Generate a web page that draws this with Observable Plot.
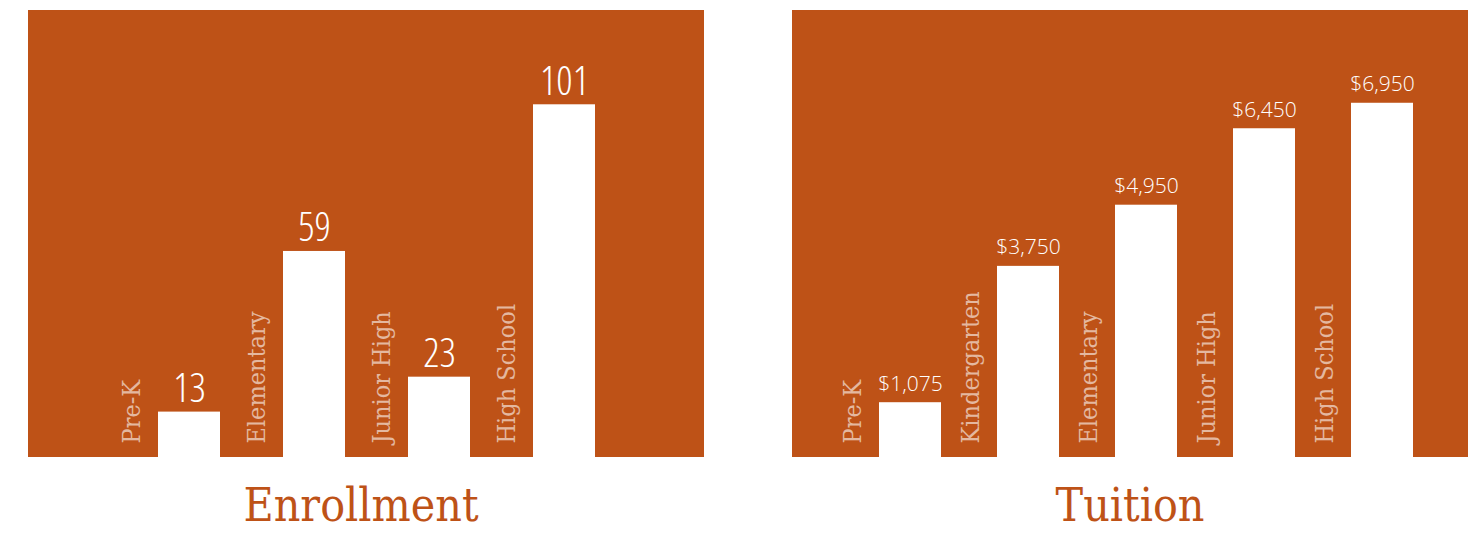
<!DOCTYPE html>
<html>
<head>
<meta charset="utf-8">
<script src="https://cdn.jsdelivr.net/npm/d3@7"></script>
<script src="https://cdn.jsdelivr.net/npm/@observablehq/plot@0.6"></script>
<style>
  html, body { margin: 0; padding: 0; background: #ffffff; }
  #wrap { position: relative; width: 1476px; height: 533px; }
  .panel { position: absolute; top: 10px; width: 676px; height: 447px; }
  .panel svg { display: block; }
  .title {
    position: absolute; top: 485px; width: 676px; text-align: center;
    font-family: "DejaVu Serif Condensed", "DejaVu Serif", serif; font-stretch: condensed;
    font-size: 46px; line-height: 40px; color: #BE5217;
  }
</style>
</head>
<body>
<div id="wrap">
  <div class="panel" id="p1" style="left:28px"></div>
  <div class="panel" id="p2" style="left:792px"></div>
  <div class="title" style="left:23px">Enrollment</div>
  <div class="title" style="left:792px">Tuition</div>
</div>
<script>
const enrollCategories = ["Pre-K", "Elementary", "Junior High", "High School"];
const enrollValues = [13, 59, 23, 101];
const tuitionCategories = ["Pre-K", "Kindergarten", "Elementary", "Junior High", "High School"];
const tuitionValues = [1075, 3750, 4950, 6450, 6950];

const BG = "#BE5217";
const labelFont = "'DejaVu Serif Condensed', 'DejaVu Serif', serif";
const valueFont = "'Open Sans', Lato, Roboto, sans-serif";

function panel({cats, vals, yMax, mLeft, mRight, padInner, fmt, valueSize, valueDy, valueStretch}) {
  const data = cats.map((c, i) => ({cat: c, value: vals[i]}));
  const chart = Plot.plot({
    width: 676,
    height: 447,
    marginLeft: mLeft,
    marginRight: mRight,
    marginTop: 0,
    marginBottom: 0,
    x: {type: "band", domain: cats, paddingInner: padInner, paddingOuter: 0, axis: null},
    y: {domain: [0, yMax], axis: null},
    style: {background: BG, overflow: "visible"},
    marks: [
      Plot.barY(data, {x: "cat", y: "value", fill: "white"}),
      Plot.text(data, {
        x: "cat", y: "value", text: d => fmt(d.value),
        dy: valueDy, lineAnchor: "bottom", fill: "white",
        fontSize: valueSize, fontFamily: valueFont, fontWeight: 300,
        className: "vals"
      }),
      Plot.text(data, {
        x: "cat", y: () => 0, text: "cat", rotate: -90,
        textAnchor: "start", lineAnchor: "middle", dx: -58, dy: -14,
        fill: "white", fillOpacity: 0.6, fontSize: 25, fontFamily: labelFont,
        className: "cats"
      })
    ]
  });
  chart.querySelectorAll(".cats text").forEach(t => t.style.fontStretch = "condensed");
  chart.querySelectorAll(".vals text").forEach(t => t.style.fontStretch = valueStretch);
  return chart;
}

document.getElementById("p1").appendChild(panel({
  cats: enrollCategories, vals: enrollValues, yMax: 128,
  mLeft: 129, mRight: 109, padInner: 0.504,
  fmt: d3.format("d"), valueSize: 40, valueDy: -10, valueStretch: "condensed"
}));

document.getElementById("p2").appendChild(panel({
  cats: tuitionCategories, vals: tuitionValues, yMax: 8770,
  mLeft: 87, mRight: 55, padInner: 0.475,
  fmt: d3.format("$,"), valueSize: 21, valueDy: -12, valueStretch: "normal"
}));
</script>
</body>
</html>
